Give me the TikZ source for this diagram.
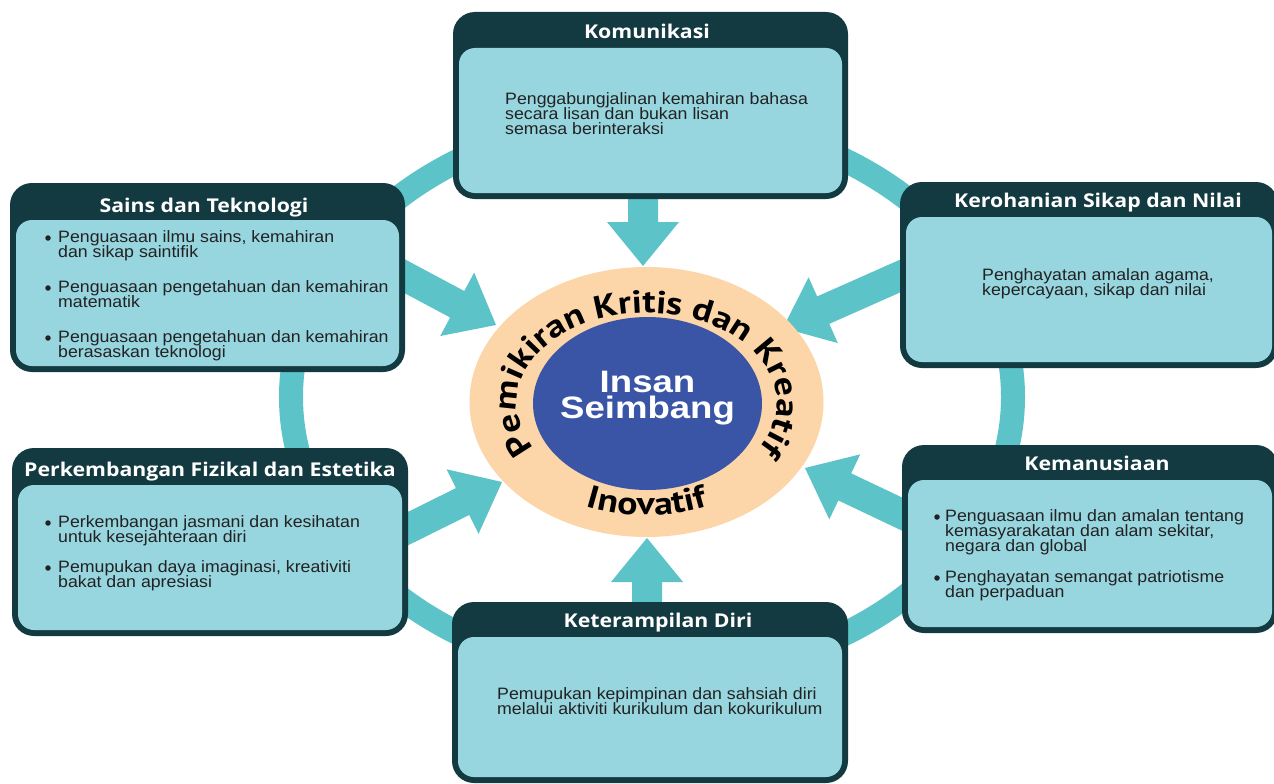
\documentclass[tikz,border=0pt]{standalone}
\usepackage{fontspec}
\setmainfont{Liberation Sans}
\newfontfamily\bodyfont{Liberation Sans}[FakeStretch=1.075]
\newfontfamily\centerfont{Liberation Sans}[FakeStretch=1.18]
\newfontfamily\titlefont{Open Sans}[FakeStretch=1.12]
\newfontfamily\arcfont{PT Sans}[FakeStretch=1.18]
\usetikzlibrary{calc,decorations.text,shapes.geometric}
\definecolor{dk}{HTML}{133A40}
\definecolor{lt}{HTML}{97D5DF}
\definecolor{tl}{HTML}{5CC4C9}
\definecolor{pch}{HTML}{FCD6A8}
\definecolor{blu}{HTML}{3A55A5}
\definecolor{txt}{HTML}{222222}
\newcommand\blockarrow[3]{%
  \coordinate (#1h) at ($(#3)!44pt!(#2)$);
  \fill[arrowfill] ($(#2)!15pt!90:(#3)$) -- ($(#1h)!15pt!90:(#3)$) -- ($(#1h)!36pt!90:(#3)$) -- (#3)
    -- ($(#1h)!36pt!-90:(#3)$) -- ($(#1h)!15pt!-90:(#3)$) -- ($(#2)!15pt!-90:(#3)$) -- cycle;}
\begin{document}
\begin{tikzpicture}[x=1pt,y=-1pt,
  arrowfill/.style={fill=tl},
  outerbox/.style={fill=dk, rounded corners=22pt, inner sep=0pt, draw=none},
  innerbox/.style={fill=lt, rounded corners=16pt, inner sep=0pt, draw=none},
  title/.style={font=\titlefont\bfseries\fontsize{19}{19}\selectfont, text=white, inner sep=0pt, anchor=base},
  body/.style={font=\bodyfont\fontsize{16.5}{16.5}\selectfont, text=txt, inner sep=0pt, anchor=base west},
  bul/.style={circle, fill=txt, minimum size=5.5pt, inner sep=0pt},
  centertxt/.style={font=\centerfont\bfseries\fontsize{31}{31}\selectfont, text=white, inner sep=0pt, anchor=base}]
\useasboundingbox (0,0) rectangle (1274,784);
\clip (0,0) rectangle (1274,784);
\fill[white] (0,0) rectangle (1274,784);
% ring
\coordinate (ringc) at (652,397);
\draw[tl, line width=24pt] (ringc) ellipse [x radius=361, y radius=280];
% arrow coordinates
\coordinate (aTs) at (643,180);  \coordinate (aTt) at (643,266);
\coordinate (aBs) at (647,620);  \coordinate (aBt) at (647,538);
\coordinate (aULs) at (380,263); \coordinate (aULt) at (496,325);
\coordinate (aURs) at (925,265); \coordinate (aURt) at (783,328);
\coordinate (aLLs) at (385,540); \coordinate (aLLt) at (502,482);
\coordinate (aLRs) at (925,525); \coordinate (aLRt) at (805,468);
\blockarrow{aT}{aTs}{aTt}
\blockarrow{aB}{aBs}{aBt}
\blockarrow{aUL}{aULs}{aULt}
\blockarrow{aUR}{aURs}{aURt}
\blockarrow{aLL}{aLLs}{aLLt}
\blockarrow{aLR}{aLRs}{aLRt}
% boxes
\node[outerbox, minimum width=395pt, minimum height=187pt] (kom) at (650.5,105.5) {};
\node[innerbox, minimum width=383pt, minimum height=145pt] (komin) at (650.5,120.5) {};
\node[outerbox, minimum width=395pt, minimum height=189pt] (sai) at (207.5,277.5) {};
\node[innerbox, minimum width=383pt, minimum height=146pt] (saiin) at (207.5,293) {};
\node[outerbox, minimum width=378pt, minimum height=186pt] (ker) at (1089,275) {};
\node[innerbox, minimum width=366pt, minimum height=145pt] (kerin) at (1089,289.5) {};
\node[outerbox, minimum width=396pt, minimum height=188pt] (per) at (210,542) {};
\node[innerbox, minimum width=384pt, minimum height=145pt] (perin) at (210,557.5) {};
\node[outerbox, minimum width=376pt, minimum height=188pt] (kem) at (1090,539) {};
\node[innerbox, minimum width=364pt, minimum height=147pt] (kemin) at (1090,553.5) {};
\node[outerbox, minimum width=396pt, minimum height=181pt] (ket) at (650,692.5) {};
\node[innerbox, minimum width=384pt, minimum height=140pt] (ketin) at (650,707) {};
% titles
\node[title] (komt) at (647,39) {Komunikasi};
\node[title] (sait) at (204,212) {Sains dan Teknologi};
\node[title] (kert) at (1098,207) {Kerohanian Sikap dan Nilai};
\node[title] (pert) at (210,476) {Perkembangan Fizikal dan Estetika};
\node[title] (kemt) at (1097,470) {Kemanusiaan};
\node[title] (kett) at (658,627) {Keterampilan Diri};
% body texts
\node[body] (kom1) at (505,104) {Penggabungjalinan kemahiran bahasa};
\node[body] (kom2) at (505,119) {secara lisan dan bukan lisan};
\node[body] (kom3) at (505,134) {semasa berinteraksi};
\node[bul] (saib1) at (48,238) {};
\node[body] (sai1) at (58,242) {Penguasaan ilmu sains, kemahiran};
\node[body] (sai2) at (58,257) {dan sikap saintifik};
\node[bul] (saib2) at (48,288) {};
\node[body] (sai3) at (58,292) {Penguasaan pengetahuan dan kemahiran};
\node[body] (sai4) at (58,307) {matematik};
\node[bul] (saib3) at (48,338) {};
\node[body] (sai5) at (58,342) {Penguasaan pengetahuan dan kemahiran};
\node[body] (sai6) at (58,357) {berasaskan teknologi};
\node[body] (ker1) at (982,280) {Penghayatan amalan agama,};
\node[body] (ker2) at (982,295) {kepercayaan, sikap dan nilai};
\node[bul] (perb1) at (48,523) {};
\node[body] (per1) at (58,527) {Perkembangan jasmani dan kesihatan};
\node[body] (per2) at (58,542) {untuk kesejahteraan diri};
\node[bul] (perb2) at (48,568) {};
\node[body] (per3) at (58,572) {Pemupukan daya imaginasi, kreativiti};
\node[body] (per4) at (58,587) {bakat dan apresiasi};
\node[bul] (kemb1) at (937,517) {};
\node[body] (kem1) at (945,521) {Penguasaan ilmu dan amalan tentang};
\node[body] (kem2) at (945,536) {kemasyarakatan dan alam sekitar,};
\node[body] (kem3) at (945,551) {negara dan global};
\node[bul] (kemb2) at (937,578) {};
\node[body] (kem4) at (945,582) {Penghayatan semangat patriotisme};
\node[body] (kem5) at (945,597) {dan perpaduan};
\node[body] (ket1) at (497,699) {Pemupukan kepimpinan dan sahsiah diri};
\node[body] (ket2) at (497,714) {melalui aktiviti kurikulum dan kokurikulum};
% centre
\node[ellipse, fill=pch, minimum width=354pt, minimum height=270pt, inner sep=0pt] (outer) at (646.5,402) {};
\node[ellipse, fill=blu, minimum width=229pt, minimum height=173pt, inner sep=0pt] (inner) at (647.5,403.5) {};
\node[centertxt] (insan) at (647.5,392) {Insan};
\node[centertxt] (seimbang) at (647.5,418) {Seimbang};
\coordinate (tc) at (647,403);
\path[decorate, decoration={text along path, text color=black, text align=center,
  text={|\arcfont\bfseries\fontsize{32}{32}\selectfont|Pemikiran Kritis dan Kreatif}}]
  ([shift={(tc)}]-222:130 and 90) arc[start angle=-222, end angle=42, x radius=130, y radius=90];
\path[decorate, decoration={text along path, text color=black, text align=center,
  text={|\arcfont\bfseries\fontsize{32}{32}\selectfont|Inovatif}}]
  ([shift={(tc)}]-225:155 and 112) arc[start angle=-225, end angle=-315, x radius=155, y radius=112];
\end{tikzpicture}
\end{document}
